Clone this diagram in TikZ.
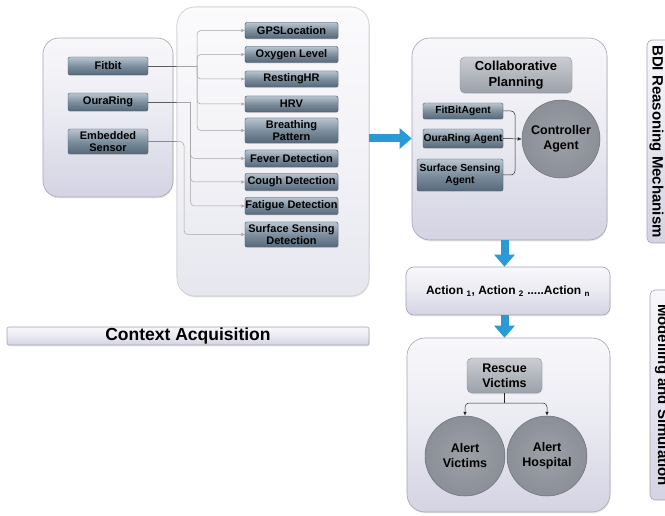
\documentclass[tikz,border=0pt]{standalone}
\usepackage{fontspec}
\setmainfont{Liberation Sans}
\usetikzlibrary{arrows.meta,shadows,calc}
\definecolor{panelt}{HTML}{F8F8FB}
\definecolor{panelm}{HTML}{EAEAF2}
\definecolor{panelb}{HTML}{D3D3E3}
\definecolor{panelline}{HTML}{A4A4B4}
\definecolor{dnt}{HTML}{B9C5CF}
\definecolor{dnm}{HTML}{7D8F9E}
\definecolor{dnb}{HTML}{56697A}
\definecolor{dnline}{HTML}{4A5B6A}
\definecolor{gbt}{HTML}{CACDD3}
\definecolor{gbb}{HTML}{9BA1A9}
\definecolor{gbline}{HTML}{8A9098}
\definecolor{circfill}{HTML}{8B8F97}
\definecolor{circline}{HTML}{6B6F76}
\definecolor{flowblue}{HTML}{2A9AD6}
\definecolor{connline}{HTML}{5C5C5C}
\begin{document}
\begin{tikzpicture}[x=1pt,y=-1pt,
  panel/.style={draw=panelline, rounded corners=16pt, top color=panelt, bottom color=panelb, middle color=panelm, line width=0.6pt, inner sep=0pt, drop shadow={opacity=0.18,shadow xshift=0.6pt,shadow yshift=-1.4pt}},
  tabbox/.style={draw=panelline, rounded corners=5pt, top color=panelt, bottom color=panelb, line width=0.6pt, inner sep=0pt},
  dnode/.style={draw=dnline, rounded corners=2pt, top color=dnt, bottom color=dnb, middle color=dnm, inner sep=0pt, align=center, line width=0.4pt, font=\bfseries\fontsize{11}{12}\selectfont, drop shadow={opacity=0.2,shadow xshift=0.4pt,shadow yshift=-0.8pt}},
  anode/.style={dnode, font=\bfseries\fontsize{10.3}{12}\selectfont},
  gbox/.style={draw=gbline, rounded corners=5pt, top color=gbt, bottom color=gbb, inner sep=0pt, align=center, line width=0.4pt, font=\bfseries\fontsize{13}{16}\selectfont, drop shadow={opacity=0.2,shadow xshift=0.4pt,shadow yshift=-1pt}},
  circnode/.style={circle, draw=circline, inner color=circfill!85!white, outer color=circfill, minimum size=78pt, inner sep=0pt, align=center, line width=0.5pt, font=\bfseries\fontsize{12.5}{15}\selectfont},
  conn/.style={draw=connline, line width=0.5pt, rounded corners=4pt},
  grayarrow/.style={conn, -{Stealth[length=4pt,width=3.2pt]}},
  bconn/.style={draw=black!85, line width=0.5pt, rounded corners=4pt},
  barrow/.style={bconn, -{Latex[length=4pt,width=3.5pt]}},
  bluearrow/.style={draw=flowblue, line width=8pt, -{Triangle[length=12pt,width=20pt]}}
]
\useasboundingbox (0,0) rectangle (665,516);
\clip (0,0) rectangle (665,516);
\fill[white] (0,0) rectangle (665,516);

% panels
\node[panel, minimum width=130pt, minimum height=159pt] (src) at (108,117.5) {};
\node[panel, rounded corners=18pt, minimum width=192pt, minimum height=289pt] (mid) at (273,151.5) {};
\node[panel, rounded corners=18pt, minimum width=195pt, minimum height=202pt] (bdi) at (509.5,139) {};
\node[panel, rounded corners=8pt, minimum width=204pt, minimum height=48pt] (act) at (508,291) {};
\node[panel, rounded corners=18pt, minimum width=203pt, minimum height=174pt] (bot) at (508.5,425) {};
\node[panel, rounded corners=2pt, minimum width=362pt, minimum height=18pt, font=\bfseries\fontsize{17.5}{18}\selectfont] (ctx) at (188,336) {Context Acquisition};

% side tabs
\node[tabbox, minimum width=34pt, minimum height=203pt] (bditab) at (664,141.5) {};
\node[rotate=-90, font=\bfseries\fontsize{15}{16}\selectfont] (bdilabel) at (656.5,141.5) {BDI Reasoning Mechanism};
\node[tabbox, minimum width=34pt, minimum height=210pt] (modtab) at (667,395) {};
\node[rotate=-90, font=\bfseries\fontsize{15}{16}\selectfont] (modlabel) at (662,395) {Modelling and Simulation};

% source nodes
\node[dnode, minimum width=80pt, minimum height=18pt] (fitbit) at (108,66) {Fitbit};
\node[dnode, minimum width=80pt, minimum height=18pt] (oura) at (108,102) {OuraRing};
\node[dnode, minimum width=80pt, minimum height=25pt, font=\bfseries\fontsize{11}{11.5}\selectfont] (emb) at (108,141.5) {Embedded\\Sensor};

\coordinate (fj) at (197,66);
\coordinate (oj) at (190.5,0);
\coordinate (ej) at (184,0);

\path (291.5,30.5) coordinate (gpsc) (291.5,54.5) coordinate (oxyc) (291.5,79) coordinate (rhrc) (291.5,104) coordinate (hrvc) (291.5,130.5) coordinate (brpc) (291.5,158.5) coordinate (fevc) (291.5,182) coordinate (couc) (291.5,206) coordinate (fatc) (291.5,234.5) coordinate (ssdc);

% middle nodes (first pass: for anchors)
\node[dnode, minimum width=93pt, minimum height=16pt] (gps) at (gpsc) {GPSLocation};
\node[dnode, minimum width=93pt, minimum height=16pt] (oxy) at (oxyc) {Oxygen Level};
\node[dnode, minimum width=93pt, minimum height=16pt] (rhr) at (rhrc) {RestingHR};
\node[dnode, minimum width=93pt, minimum height=16pt] (hrv) at (hrvc) {HRV};
\node[dnode, minimum width=93pt, minimum height=25pt, font=\bfseries\fontsize{11}{11.5}\selectfont] (brp) at (brpc) {Breathing\\Pattern};
\node[dnode, minimum width=93pt, minimum height=17pt] (fev) at (fevc) {Fever Detection};
\node[dnode, minimum width=93pt, minimum height=17pt] (cou) at (couc) {Cough Detection};
\node[dnode, minimum width=93pt, minimum height=17pt] (fat) at (fatc) {Fatigue Detection};
\node[dnode, minimum width=93pt, minimum height=25pt, font=\bfseries\fontsize{11}{11.5}\selectfont] (ssd) at (ssdc) {Surface Sensing\\Detection};

% connectors source -> measures
\draw[conn] (fitbit.east) -- (fj);
\foreach \t in {gps,oxy,rhr,hrv,brp} \draw[grayarrow] (fj) |- (\t.west);
\draw[conn] (oura.east) -- (oura.east -| oj);
\foreach \t in {fev,cou,fat} \draw[grayarrow] (oura.east -| oj) |- (\t.west);
\draw[grayarrow] (emb.east) -- (emb.east -| ej) |- (ssd.west);

% fade connectors inside the middle panel
\fill[white, opacity=0.45, rounded corners=18pt] (mid.south west) rectangle (mid.north east);

% middle nodes on top
\node[dnode, minimum width=93pt, minimum height=16pt] at (gpsc) {GPSLocation};
\node[dnode, minimum width=93pt, minimum height=16pt] at (oxyc) {Oxygen Level};
\node[dnode, minimum width=93pt, minimum height=16pt] at (rhrc) {RestingHR};
\node[dnode, minimum width=93pt, minimum height=16pt] at (hrvc) {HRV};
\node[dnode, minimum width=93pt, minimum height=25pt, font=\bfseries\fontsize{11}{11.5}\selectfont] at (brpc) {Breathing\\Pattern};
\node[dnode, minimum width=93pt, minimum height=17pt] at (fevc) {Fever Detection};
\node[dnode, minimum width=93pt, minimum height=17pt] at (couc) {Cough Detection};
\node[dnode, minimum width=93pt, minimum height=17pt] at (fatc) {Fatigue Detection};
\node[dnode, minimum width=93pt, minimum height=25pt, font=\bfseries\fontsize{11}{11.5}\selectfont] at (ssdc) {Surface Sensing\\Detection};

% BDI panel content
\node[gbox, minimum width=112pt, minimum height=36pt] (collab) at (516,75) {Collaborative\\Planning};
\node[anode, minimum width=80pt, minimum height=16pt] (fba) at (463,111) {FitBitAgent};
\node[anode, minimum width=80pt, minimum height=19pt] (ora) at (463,138.5) {OuraRing Agent};
\node[anode, minimum width=86pt, minimum height=32pt, font=\bfseries\fontsize{10.3}{12.5}\selectfont] (ssa) at (460,175) {Surface Sensing\\Agent};
\node[circnode] (ctrl) at (561,139) {Controller\\Agent};
\coordinate (bj) at (515,138.5);
\draw[bconn] (fba.east) -| (bj);
\draw[bconn] (ssa.east) -| (bj);
\draw[barrow] (ora.east) -- (ctrl.west);

% action and outcome
\node[font=\bfseries\fontsize{12}{14}\selectfont] (acttext) at (act) {Action \textsubscript{1}, Action \textsubscript{2} .....Action \textsubscript{n}};
\node[gbox, font=\bfseries\fontsize{12.5}{15}\selectfont, minimum width=75pt, minimum height=35pt] (rescue) at (504.5,375.5) {Rescue\\Victims};
\node[circnode, minimum size=80pt] (av) at (465,456) {Alert\\Victims};
\node[circnode, minimum size=80pt] (ah) at (547,456) {Alert\\Hospital};
\coordinate (rj) at (504.5,403);
\draw[bconn] (rescue.south) -- (rj);
\draw[barrow] (rj) -| (av.north);
\draw[barrow] (rj) -| (ah.north);

% blue flow arrows
\draw[bluearrow] (mid.east |- ora.east) -- (bdi.west |- ora.east);
\draw[bluearrow] (rescue |- bdi.south) -- (rescue |- act.north);
\draw[bluearrow] (rescue |- act.south) -- (rescue |- bot.north);
\end{tikzpicture}
\end{document}
